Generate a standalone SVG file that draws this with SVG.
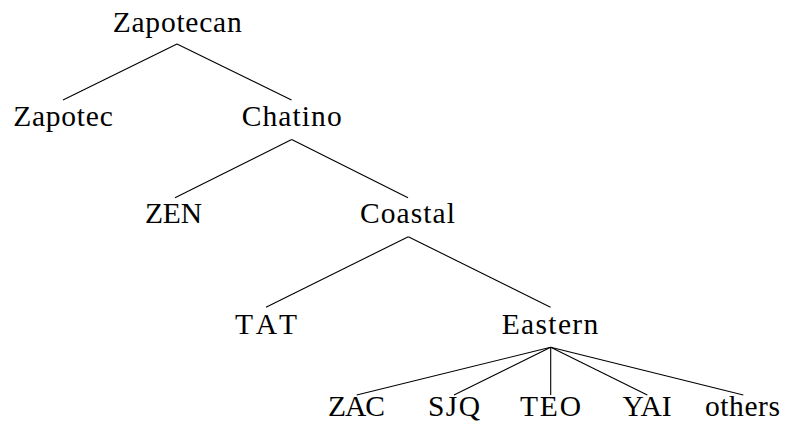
<svg xmlns="http://www.w3.org/2000/svg" width="786" height="425" viewBox="0 0 786 425">
<style>
.e{stroke:#000;stroke-width:1.1;fill:none}
</style>
<rect width="786" height="425" fill="#fff"/>
<g id="connectors">
<line class="e" x1="177" y1="44" x2="63" y2="100"/>
<line class="e" x1="177" y1="44" x2="291.5" y2="100"/>
<line class="e" x1="291.7" y1="139.5" x2="175" y2="197.7"/>
<line class="e" x1="291.7" y1="139.5" x2="408" y2="197.7"/>
<line class="e" x1="408.3" y1="236.7" x2="266" y2="307.3"/>
<line class="e" x1="408.3" y1="236.7" x2="550.5" y2="307.3"/>
<line class="e" x1="550.7" y1="347.3" x2="356.7" y2="395"/>
<line class="e" x1="550.7" y1="347.3" x2="454" y2="395"/>
<line class="e" x1="550.7" y1="347.3" x2="550.7" y2="395"/>
<line class="e" x1="550.7" y1="347.3" x2="647.3" y2="395"/>
<line class="e" x1="550.7" y1="347.3" x2="743.3" y2="395"/>
</g>
<g font-family="Liberation Serif, DejaVu Serif, Times New Roman, serif" font-size="29.5" fill="#000" text-anchor="middle">
<g id="n-zapotecan"><text x="177.2" y="32.3" textLength="129">Zapotecan</text></g>
<g id="n-zapotec"><text x="63" y="125.5" textLength="99.5">Zapotec</text></g>
<g id="n-chatino"><text x="291.7" y="125.5" textLength="100">Chatino</text></g>
<g id="n-zen"><text x="173.5" y="223.3" textLength="57">ZEN</text></g>
<g id="n-coastal"><text x="407.5" y="223.3" textLength="95">Coastal</text></g>
<g id="n-tat"><text x="266" y="334.3" textLength="62">TAT</text></g>
<g id="n-eastern"><text x="550" y="334.3" textLength="96.6">Eastern</text></g>
<g id="n-zac"><text x="356.5" y="415.7" textLength="57">ZAC</text></g>
<g id="n-sjq"><text x="454" y="415.7" textLength="52">SJQ</text></g>
<g id="n-teo"><text x="550.5" y="415.7" textLength="61">TEO</text></g>
<g id="n-yai"><text x="647" y="415.7" textLength="49">YAI</text></g>
<g id="n-others"><text x="742.5" y="415.7" textLength="75">others</text></g>
</g>
</svg>
